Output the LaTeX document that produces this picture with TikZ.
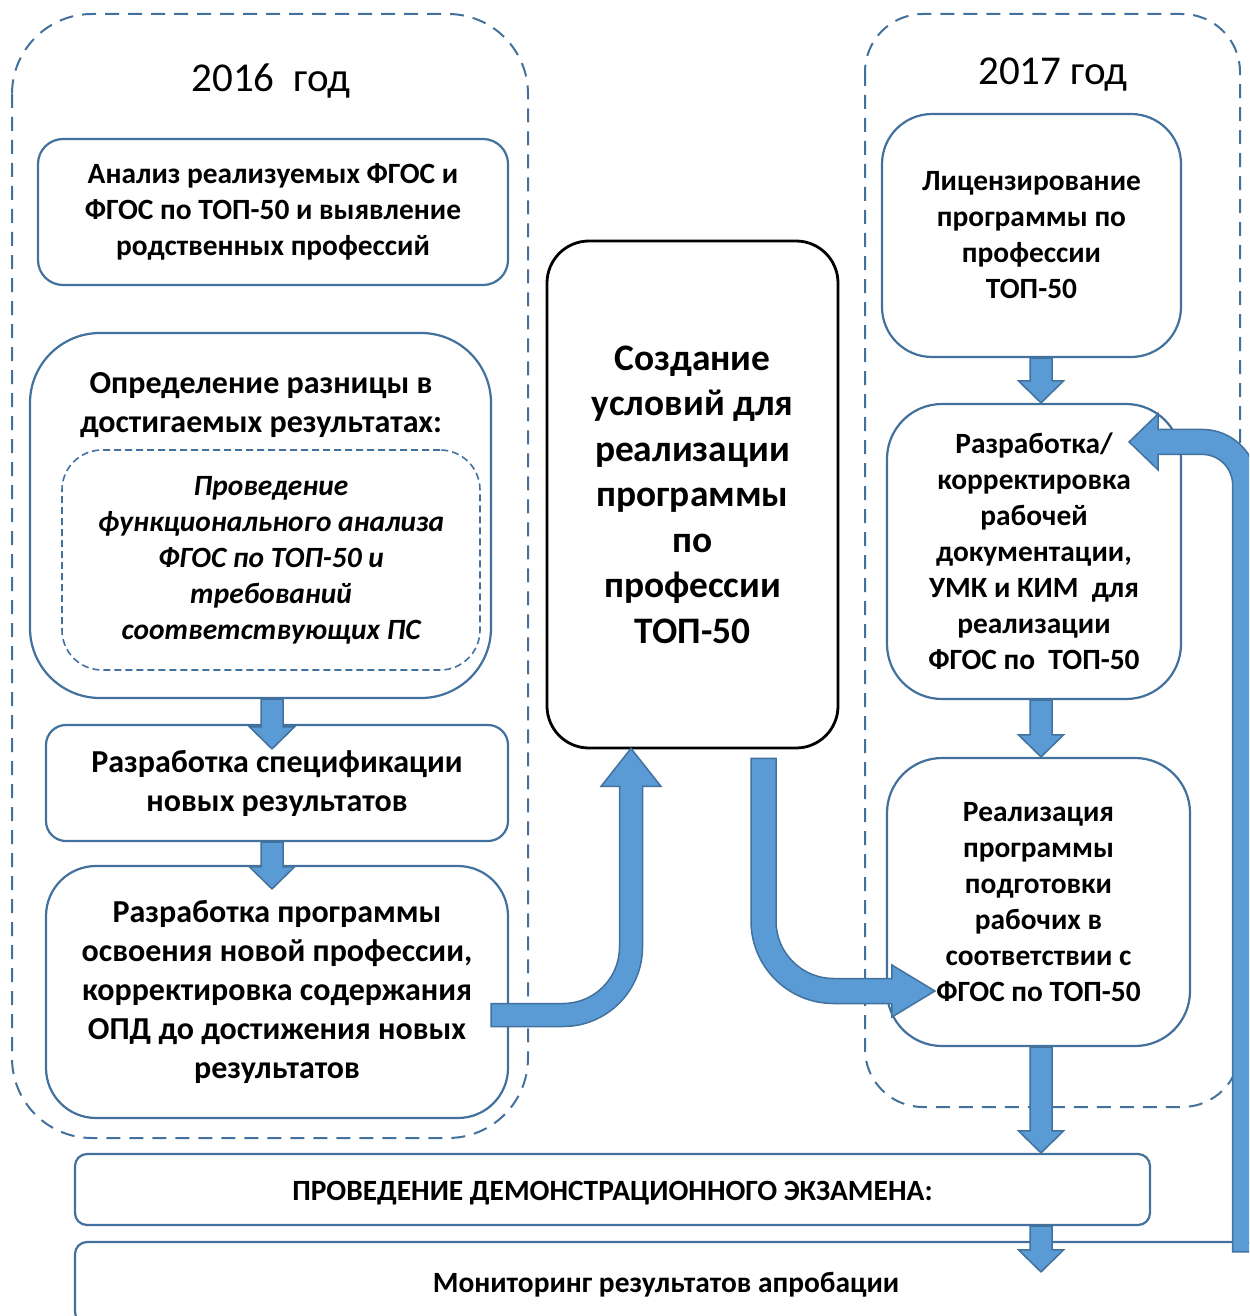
\documentclass[tikz,border=0pt]{standalone}
\usepackage{fontspec}
\setmainfont{Carlito}
\usetikzlibrary{calc}
\definecolor{boxline}{HTML}{41719C}
\definecolor{arrfill}{HTML}{5B9BD5}
\newcommand{\boxfont}{\fontsize{14.7pt}{18pt}\selectfont\bfseries}
\newcommand{\bigboxfont}{\fontsize{16pt}{19.5pt}\selectfont\bfseries}
\newcommand{\ctrfont}{\fontsize{18.7pt}{22.75pt}\selectfont\bfseries}
\newcommand{\yearfont}{\fontsize{20.5pt}{24pt}\selectfont}
\newcommand{\fatdown}[2]{%
  \draw [fatarrow] let \p1=(#1), \p2=(#2) in
    (\x1-5.5pt,\y1) -- (\x1-5.5pt,\y2+11pt) -- (\x1-11.25pt,\y2+11pt) -- (\x1,\y2)
    -- (\x1+11.25pt,\y2+11pt) -- (\x1+5.5pt,\y2+11pt) -- (\x1+5.5pt,\y1) -- cycle;}

\begin{document}
\begin{tikzpicture}[x=0.5pt,y=-0.5pt]
\tikzstyle{every node}+=[inner sep=0pt]
\tikzstyle{frame}=[draw=boxline, line width=1pt, dash pattern=on 7pt off 4.5pt]
\tikzstyle{box}=[draw=boxline, line width=1.1pt, fill=white, align=center, font=\boxfont]
\tikzstyle{fatarrow}=[fill=arrfill, draw=boxline, line width=0.75pt]
\useasboundingbox (0,0) rectangle (1249,1316);
\clip (0,0) rectangle (1249,1316);
% years
\draw [frame, rounded corners=40pt] (12,14) rectangle (528,1138);
\draw [frame, rounded corners=29pt] (865,14) rectangle (1240,1107);
\node [font=\yearfont] (y16) at (271,81) {2016\ \ год};
\node [font=\yearfont] (y17) at (1053,75) {2017 год};
% 2016
\node [box, rounded corners=12.5pt, minimum width=235pt, minimum height=73pt] (a1) at (273,212)
  {Анализ реализуемых ФГОС и\\ФГОС по ТОП-50 и выявление\\родственных профессий};
\node [box, rounded corners=35pt, minimum width=230.5pt, minimum height=182.5pt] (a2) at (260.5,515.5) {};
\node [font=\bigboxfont, align=center] (a2t) at (261,405.5) {Определение разницы в\\достигаемых результатах:};
\node [box, line width=0.8pt, dash pattern=on 3.5pt off 2pt, rounded corners=20pt,
  minimum width=209pt, minimum height=110pt, font=\boxfont\itshape] (a2in) at (271,560)
  {Проведение\\функционального анализа\\ФГОС по ТОП-50 и\\требований\\соответствующих ПС};
\node [box, rounded corners=10pt, minimum width=231pt, minimum height=58pt, font=\bigboxfont] (a3) at (277,783)
  {Разработка спецификации\\новых результатов};
\node [box, rounded corners=25pt, minimum width=231pt, minimum height=126pt, font=\bigboxfont] (a4) at (277,992)
  {Разработка программы\\освоения новой профессии,\\корректировка содержания\\ОПД до достижения новых\\результатов};
% centre
\node [box, draw=black, line width=1.4pt, rounded corners=21pt, minimum width=145.5pt, minimum height=253.5pt,
  font=\ctrfont] (ctr) at (692.5,494.5)
  {Создание\\условий для\\реализации\\программы\\по\\профессии\\ТОП-50};
% 2017
\node [box, rounded corners=25pt, minimum width=149.5pt, minimum height=121.5pt] (b1) at (1031.5,235.5)
  {Лицензирование\\программы по\\профессии\\ТОП-50};
\node [box, rounded corners=27.5pt, minimum width=147pt, minimum height=147.5pt] (b2) at (1034,551.5)
  {Разработка/\\корректировка\\рабочей\\документации,\\УМК и КИМ\ \ для\\реализации\\ФГОС по\ \ ТОП-50};
\node [box, rounded corners=27.5pt, minimum width=151.5pt, minimum height=144pt] (b3) at (1038.5,902)
  {Реализация\\программы\\подготовки\\рабочих в\\соответствии с\\ФГОС по ТОП-50};
% bottom
\node [box, rounded corners=6pt, minimum width=537.5pt, minimum height=35.5pt,
  text height=11pt, text depth=0pt] (c1) at (612.5,1189.5)
  {ПРОВЕДЕНИЕ ДЕМОНСТРАЦИОННОГО ЭКЗАМЕНА:};
\node [box, rounded corners=6pt, minimum width=591pt, minimum height=41pt,
  text height=9.5pt, text depth=0pt] (c2) at (666,1283)
  {Мониторинг результатов апробации};
% block arrows
\coordinate (lcol) at (272,0);
\coordinate (rcol) at (1041,0);
\fatdown{a2.south -| lcol}{$(a3.north)+(0,25)$}
\fatdown{a3.south -| lcol}{$(a4.north)+(0,24)$}
\fatdown{b1.south -| rcol}{b2.north}
\fatdown{b2.south -| rcol}{b3.north}
\fatdown{b3.south -| rcol}{c1.north}
\fatdown{c1.south -| rcol}{$(c2.north)+(0,31)$}
\coordinate (t1) at ($(a4.east)+(-18,23)$);
\coordinate (h1) at ($(ctr.south)+(-61.5,-1)$);
\draw [fatarrow] let \p1=(t1), \p2=(h1) in
  (\x1,\y1-5.75pt) -- (\x2-34pt,\y1-5.75pt) arc [start angle=-90, end angle=0, radius=39.75pt]
  -- (\x2+5.75pt,\y2-19pt) -- (\x2+15pt,\y2-19pt) -- (\x2,\y2) -- (\x2-15pt,\y2-19pt)
  -- (\x2-5.75pt,\y2-19pt) -- (\x2-5.75pt,\y1+34pt) arc [start angle=0, end angle=-90, radius=28.25pt]
  -- (\x1,\y1+5.75pt) -- cycle;
\coordinate (t2) at ($(ctr.south)+(71,9)$);
\coordinate (h2) at ($(b3.west)+(49,89)$);
\draw [fatarrow] let \p1=(t2), \p2=(h2) in
  (\x1-6.25pt,\y1) -- (\x1-6.25pt,\y2+35pt) arc [start angle=180, end angle=270, radius=41.25pt]
  -- (\x2-21.5pt,\y2-6.25pt) -- (\x2-21.5pt,\y2-13pt) -- (\x2,\y2) -- (\x2-21.5pt,\y2+13pt)
  -- (\x2-21.5pt,\y2+6.25pt) -- (\x1+35pt,\y2+6.25pt) arc [start angle=270, end angle=180, radius=28.75pt]
  -- (\x1+6.25pt,\y1) -- cycle;
\coordinate (t3) at ($(c2.north east)+(-13,11)$);
\coordinate (h3) at ($(b2.north east)+(-53,39)$);
\draw [fatarrow] let \p1=(t3), \p2=(h3) in
  (\x1+6.25pt,\y1) -- (\x1+6.25pt,\y2-21.5pt) arc [start angle=0, end angle=90, radius=27.75pt]
  -- (\x2+14.5pt,\y2+6.25pt) -- (\x2+14.5pt,\y2+14pt) -- (\x2,\y2) -- (\x2+14.5pt,\y2-14pt)
  -- (\x2+14.5pt,\y2-6.25pt) -- (\x1-21.5pt,\y2-6.25pt) arc [start angle=90, end angle=0, radius=15.25pt]
  -- (\x1-6.25pt,\y1) -- cycle;
\end{tikzpicture}
\end{document}
